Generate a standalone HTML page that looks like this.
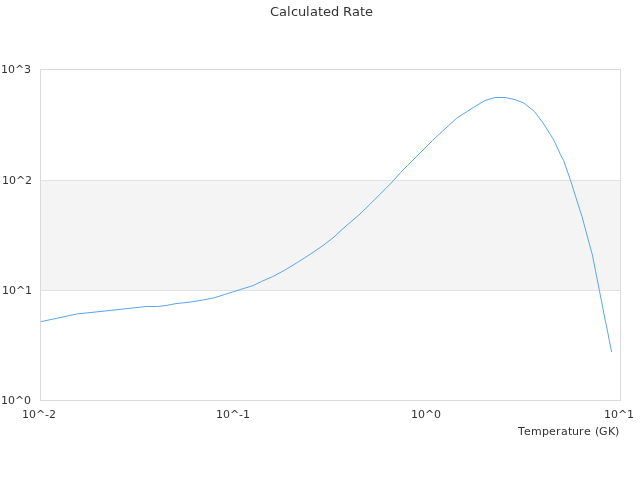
<!DOCTYPE html>
<html><head><meta charset="utf-8"><title>Calculated Rate</title>
<style>
html,body{margin:0;padding:0;background:#fff;}
body{width:640px;height:480px;overflow:hidden;}
svg{display:block;}
text{font-family:"DejaVu Sans","Liberation Sans",sans-serif;fill:#333;font-kerning:none;}
</style></head><body>
<svg width="640" height="480" viewBox="0 0 640 480">
<rect x="0" y="0" width="640" height="480" fill="#fff"/>
<rect x="41" y="181" width="579" height="109" fill="#f4f4f4"/>
<g stroke-width="1" fill="none" shape-rendering="crispEdges">
<line x1="40" y1="180.5" x2="621" y2="180.5" stroke="#e2e2e2"/>
<line x1="40" y1="290.5" x2="621" y2="290.5" stroke="#e2e2e2"/>
<rect x="40.5" y="69.5" width="580" height="331" stroke="#dadada"/>
</g>
<polyline id="curve" fill="none" stroke="#5ba5f0" stroke-width="1" stroke-linejoin="round" points="40.8,321.7 77.5,313.85 100,311.55 146.2,306.5 157.5,306.5 166.3,305.5 175.1,303.72 190.4,302.06 203.4,299.9 214.6,297.7 224.5,294.56 233.3,291.78 253,285.58 261.5,281.45 272.5,276.7 285,270 297.5,262.4 304,258.3 314,251.7 324,244.85 334,237 343,228.6 350,222.6 360,214 370,204.25 380,194.25 390,184.25 393.75,180.25 400.6,172.4 407.5,165.5 420,153 432.5,140.5 438.75,134.5 448.75,125.5 456.25,118.6 461,115.4 473.7,107.3 485,100.5 495,97.5 505.5,97.5 515,99.65 524,103.1 534.4,111.45 543.75,123.95 553.1,138.9 556.25,145.15 560.6,154.9 563.75,160.75 570.6,180.65 578.3,205.1 581.95,216.35 592.4,255.05 599.45,290.65 605.2,320.35 606.3,325.05 611.6,352.05"/>
<text x="270 279 287 291 298 306 310 318 323 331 339 343 352 360 365" y="16" font-size="13">Calculated Rate</text>
<g font-size="11">
<text x="1 8 15 24" y="73">10^3</text>
<text x="2 9 16 25" y="184">10^2</text>
<text x="2 9 16 25" y="294">10^1</text>
<text x="1 8 15 24" y="404">10^0</text>
<text x="22 29 36 45 49" y="418">10^-2</text>
<text x="216 223 230 239 243" y="418">10^-1</text>
<text x="411 418 425 434" y="418">10^0</text>
<text x="604 611 618 627" y="418">10^1</text>
</g>
<text x="518 524 531 542 549 556 561 568 572 579 584 591 595 599 608 615" y="435" font-size="11">Temperature (GK)</text>
</svg>
</body></html>
